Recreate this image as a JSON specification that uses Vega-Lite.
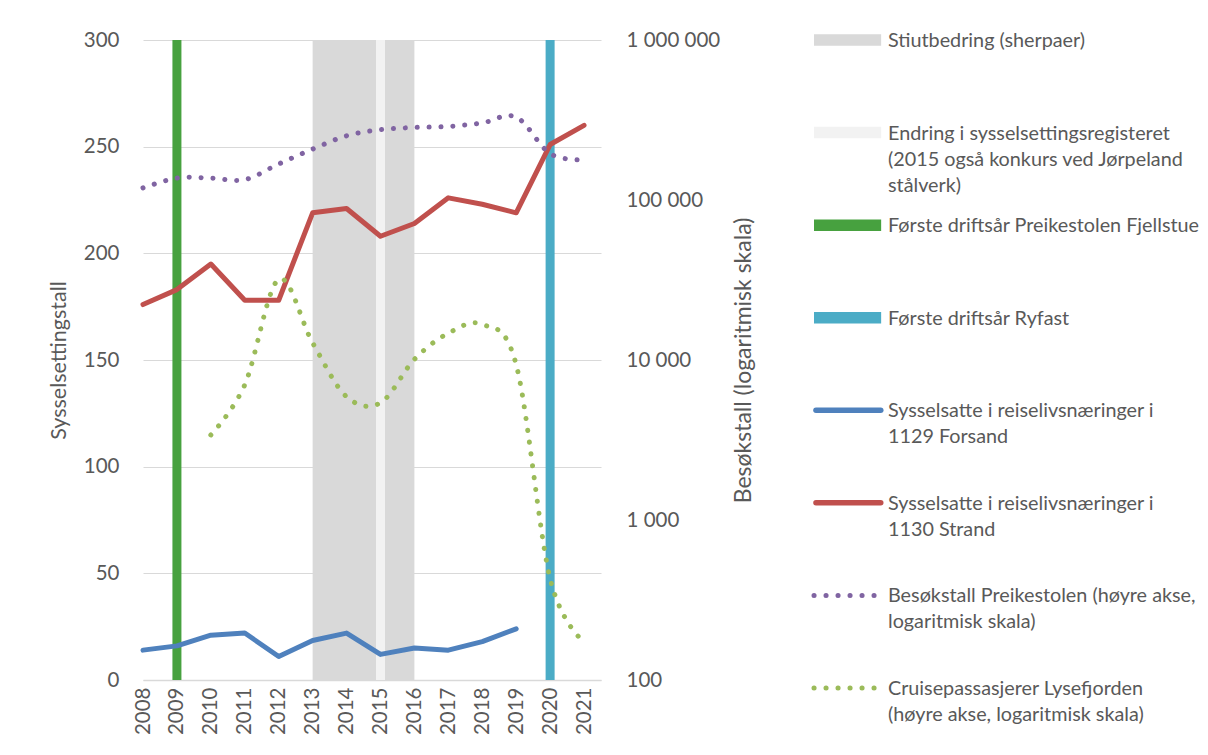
{
  "$schema": "https://vega.github.io/schema/vega-lite/v6.json",
  "background": "white",
  "padding": {"left": 48, "top": 30, "right": 0, "bottom": 0},
  "bounds": "flush",
  "spacing": 213,
  "config": {
    "view": {"stroke": null},
    "font": "Lato",
    "axis": {
      "labelFont": "Lato",
      "titleFont": "Lato",
      "labelColor": "#595959",
      "titleColor": "#595959",
      "titleFontWeight": "normal",
      "labelFontSize": 20.5,
      "titleFontSize": 21.5,
      "ticks": false
    }
  },
  "datasets": {
    "perioder": [
      {"år": 2013, "til": 2016, "serie": "Stiutbedring"}
    ],
    "hendelser": [
      {"år": 2015, "serie": "Endring"},
      {"år": 2009, "serie": "Fjellstue"},
      {"år": 2020, "serie": "Ryfast"}
    ],
    "ansatte": [
      {"år": 2008, "serie": "Forsand", "verdi": 14},
      {"år": 2009, "serie": "Forsand", "verdi": 16},
      {"år": 2010, "serie": "Forsand", "verdi": 21},
      {"år": 2011, "serie": "Forsand", "verdi": 22},
      {"år": 2012, "serie": "Forsand", "verdi": 11},
      {"år": 2013, "serie": "Forsand", "verdi": 18.5},
      {"år": 2014, "serie": "Forsand", "verdi": 22},
      {"år": 2015, "serie": "Forsand", "verdi": 12},
      {"år": 2016, "serie": "Forsand", "verdi": 15},
      {"år": 2017, "serie": "Forsand", "verdi": 14},
      {"år": 2018, "serie": "Forsand", "verdi": 18},
      {"år": 2019, "serie": "Forsand", "verdi": 24},
      {"år": 2008, "serie": "Strand", "verdi": 176},
      {"år": 2009, "serie": "Strand", "verdi": 183},
      {"år": 2010, "serie": "Strand", "verdi": 195},
      {"år": 2011, "serie": "Strand", "verdi": 178},
      {"år": 2012, "serie": "Strand", "verdi": 178},
      {"år": 2013, "serie": "Strand", "verdi": 219},
      {"år": 2014, "serie": "Strand", "verdi": 221},
      {"år": 2015, "serie": "Strand", "verdi": 208},
      {"år": 2016, "serie": "Strand", "verdi": 214},
      {"år": 2017, "serie": "Strand", "verdi": 226},
      {"år": 2018, "serie": "Strand", "verdi": 223},
      {"år": 2019, "serie": "Strand", "verdi": 219},
      {"år": 2020, "serie": "Strand", "verdi": 251},
      {"år": 2021, "serie": "Strand", "verdi": 260}
    ],
    "besok": [
      {"år": 2008, "serie": "Preikestolen", "verdi": 119000},
      {"år": 2009, "serie": "Preikestolen", "verdi": 137000},
      {"år": 2010, "serie": "Preikestolen", "verdi": 137000},
      {"år": 2011, "serie": "Preikestolen", "verdi": 134000},
      {"år": 2012, "serie": "Preikestolen", "verdi": 168000},
      {"år": 2013, "serie": "Preikestolen", "verdi": 208000},
      {"år": 2014, "serie": "Preikestolen", "verdi": 252000},
      {"år": 2015, "serie": "Preikestolen", "verdi": 275000},
      {"år": 2016, "serie": "Preikestolen", "verdi": 284000},
      {"år": 2017, "serie": "Preikestolen", "verdi": 288000},
      {"år": 2018, "serie": "Preikestolen", "verdi": 303000},
      {"år": 2019, "serie": "Preikestolen", "verdi": 330000},
      {"år": 2020, "serie": "Preikestolen", "verdi": 195000},
      {"år": 2021, "serie": "Preikestolen", "verdi": 178000},
      {"år": 2010, "serie": "Cruise", "verdi": 3400},
      {"år": 2011, "serie": "Cruise", "verdi": 7000},
      {"år": 2012, "serie": "Cruise", "verdi": 32000},
      {"år": 2013, "serie": "Cruise", "verdi": 12800},
      {"år": 2014, "serie": "Cruise", "verdi": 5900},
      {"år": 2015, "serie": "Cruise", "verdi": 5400},
      {"år": 2016, "serie": "Cruise", "verdi": 10100},
      {"år": 2017, "serie": "Cruise", "verdi": 14700},
      {"år": 2018, "serie": "Cruise", "verdi": 16700},
      {"år": 2019, "serie": "Cruise", "verdi": 9350},
      {"år": 2020, "serie": "Cruise", "verdi": 430},
      {"år": 2021, "serie": "Cruise", "verdi": 173}
    ],
    "legende": [
      {"rad": 0, "type": "bar", "serie": "Stiutbedring", "tekst": "Stiutbedring (sherpaer)"},
      {"rad": 1, "type": "bar", "serie": "Endring", "tekst": "Endring i sysselsettingsregisteret\n(2015 også konkurs ved Jørpeland\nstålverk)"},
      {"rad": 2, "type": "bar", "serie": "Fjellstue", "tekst": "Første driftsår Preikestolen Fjellstue"},
      {"rad": 3, "type": "bar", "serie": "Ryfast", "tekst": "Første driftsår Ryfast"},
      {"rad": 4, "type": "line", "serie": "Forsand", "tekst": "Sysselsatte i reiselivsnæringer i\n1129 Forsand"},
      {"rad": 5, "type": "line", "serie": "Strand", "tekst": "Sysselsatte i reiselivsnæringer i\n1130 Strand"},
      {"rad": 6, "type": "dots", "serie": "Preikestolen", "tekst": "Besøkstall Preikestolen (høyre akse,\nlogaritmisk skala)"},
      {"rad": 7, "type": "dots", "serie": "Cruise", "tekst": "Cruisepassasjerer Lysefjorden\n(høyre akse, logaritmisk skala)"}
    ]
  },
  "hconcat": [
    {
      "width": 458,
      "height": 640,
      "encoding": {
        "x": {
          "field": "år",
          "type": "quantitative",
          "scale": {"domain": [2008, 2021.5], "nice": false, "zero": false},
          "axis": {
            "title": null,
            "values": [2008, 2009, 2010, 2011, 2012, 2013, 2014, 2015, 2016, 2017, 2018, 2019, 2020, 2021],
            "format": "d",
            "labelAngle": -90,
            "labelPadding": 7,
            "grid": false,
            "domain": true,
            "domainColor": "#D9D9D9",
            "domainWidth": 1.5
          }
        },
        "color": {
          "field": "serie",
          "type": "nominal",
          "scale": {
            "domain": ["Stiutbedring", "Endring", "Fjellstue", "Ryfast", "Forsand", "Strand", "Preikestolen", "Cruise"],
            "range": ["#D9D9D9", "#F2F2F2", "#47A13F", "#4BACC6", "#4F81BD", "#C0504D", "#8064A2", "#9BBB59"]
          },
          "legend": null
        }
      },
      "layer": [
        {
          "data": {"name": "perioder"},
          "mark": {"type": "rect"},
          "encoding": {"x2": {"field": "til"}}
        },
        {
          "data": {"name": "hendelser"},
          "mark": {"type": "rule", "strokeWidth": 9},
          "encoding": {}
        },
        {
          "data": {"name": "ansatte"},
          "mark": {"type": "line", "strokeWidth": 5, "strokeCap": "round", "strokeJoin": "round"},
          "encoding": {
            "y": {
              "field": "verdi",
              "type": "quantitative",
              "scale": {"domain": [0, 300], "nice": false},
              "axis": {
                "title": "Sysselsettingstall",
                "values": [0, 50, 100, 150, 200, 250, 300],
                "grid": true,
                "gridColor": "#D9D9D9",
                "gridWidth": 1.2,
                "domain": false,
                "labelPadding": 24,
                "titlePadding": 13
              }
            }
          }
        },
        {
          "data": {"name": "besok"},
          "mark": {"type": "line", "strokeWidth": 5, "strokeCap": "round", "strokeDash": [0.1, 11.8], "interpolate": "cardinal"},
          "encoding": {
            "y": {
              "field": "verdi",
              "type": "quantitative",
              "scale": {"type": "log", "domain": [100, 1000000], "nice": false},
              "axis": {
                "orient": "right",
                "title": "Besøkstall (logaritmisk skala)",
                "titleAngle": -90,
                "titleFontSize": 23,
                "values": [100, 1000, 10000, 100000, 1000000],
                "labelExpr": "datum.value == 1000000 ? '1 000 000' : datum.value == 100000 ? '100 000' : datum.value == 10000 ? '10 000' : datum.value == 1000 ? '1 000' : '100'",
                "grid": false,
                "domain": false,
                "labelPadding": 25,
                "titlePadding": 36
              }
            }
          }
        }
      ],
      "resolve": {"scale": {"y": "independent"}}
    },
    {
      "width": 395,
      "height": 648,
      "data": {"name": "legende"},
      "encoding": {
        "y": {
          "field": "rad",
          "type": "quantitative",
          "scale": {"domain": [0, 7], "reverse": true, "nice": false, "zero": false},
          "axis": null
        }
      },
      "layer": [
        {
          "transform": [{"filter": "datum.type === 'bar'"}],
          "mark": {"type": "rule", "strokeWidth": 11.5, "strokeCap": "butt"},
          "encoding": {
            "x": {"datum": 0, "type": "quantitative", "scale": {"domain": [0, 100], "nice": false}, "axis": null},
            "x2": {"datum": 17},
            "color": {
              "field": "serie",
              "type": "nominal",
              "scale": {
                "domain": ["Stiutbedring", "Endring", "Fjellstue", "Ryfast", "Forsand", "Strand", "Preikestolen", "Cruise"],
                "range": ["#D9D9D9", "#F2F2F2", "#47A13F", "#4BACC6", "#4F81BD", "#C0504D", "#8064A2", "#9BBB59"]
              },
              "legend": null
            }
          }
        },
        {
          "transform": [{"filter": "datum.type === 'line'"}],
          "mark": {"type": "rule", "strokeWidth": 5.5, "strokeCap": "round"},
          "encoding": {
            "x": {"datum": 0.5, "type": "quantitative", "scale": {"domain": [0, 100], "nice": false}, "axis": null},
            "x2": {"datum": 16.9},
            "color": {
              "field": "serie",
              "type": "nominal",
              "scale": {
                "domain": ["Stiutbedring", "Endring", "Fjellstue", "Ryfast", "Forsand", "Strand", "Preikestolen", "Cruise"],
                "range": ["#D9D9D9", "#F2F2F2", "#47A13F", "#4BACC6", "#4F81BD", "#C0504D", "#8064A2", "#9BBB59"]
              },
              "legend": null
            }
          }
        },
        {
          "transform": [{"filter": "datum.type === 'dots'"}],
          "mark": {"type": "rule", "strokeWidth": 5, "strokeCap": "round", "strokeDash": [0.1, 11.9]},
          "encoding": {
            "x": {"datum": 0, "type": "quantitative", "scale": {"domain": [0, 100], "nice": false}, "axis": null},
            "x2": {"datum": 15.5},
            "color": {
              "field": "serie",
              "type": "nominal",
              "scale": {
                "domain": ["Stiutbedring", "Endring", "Fjellstue", "Ryfast", "Forsand", "Strand", "Preikestolen", "Cruise"],
                "range": ["#D9D9D9", "#F2F2F2", "#47A13F", "#4BACC6", "#4F81BD", "#C0504D", "#8064A2", "#9BBB59"]
              },
              "legend": null
            }
          }
        },
        {
          "mark": {"type": "text", "align": "left", "baseline": "top", "dy": -9, "font": "Lato", "fontSize": 19.8, "lineHeight": 26, "lineBreak": "\n", "color": "#595959"},
          "encoding": {
            "x": {"datum": 18.73, "type": "quantitative", "scale": {"domain": [0, 100], "nice": false}, "axis": null},
            "text": {"field": "tekst"}
          }
        }
      ]
    }
  ]
}
